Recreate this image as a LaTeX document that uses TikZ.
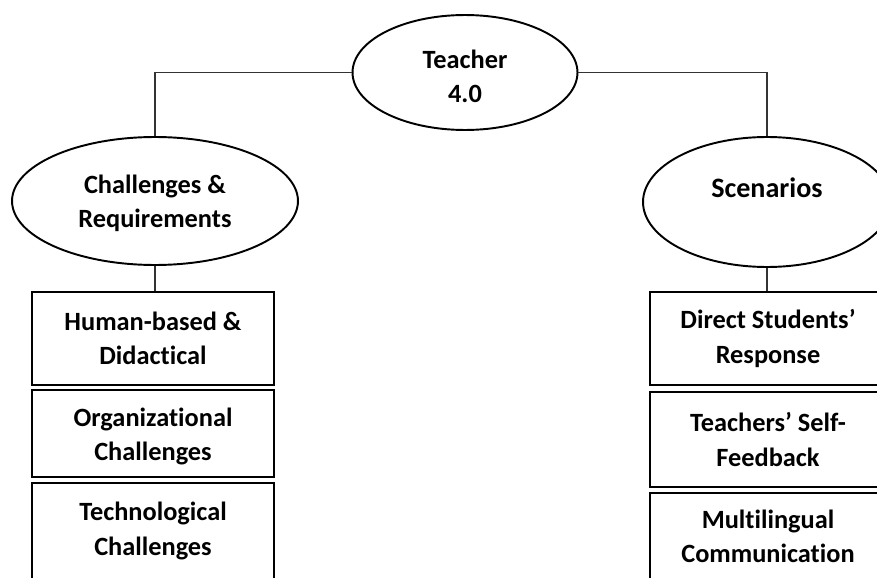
\documentclass[tikz,border=0pt]{standalone}
\usepackage{fontspec}
\setmainfont{Carlito}[Ligatures={TeX,NoCommon}]
\usepackage{tikz}
\usetikzlibrary{shapes.geometric}

% move a (multi-line) label up or down without changing its box
\newcommand{\lifted}[2]{\raisebox{#1}[\height][\depth]{\begin{tabular}{@{}c@{}}#2\end{tabular}}}

\tikzset{
  topic/.style={ellipse, draw, line width=1.1pt, align=center, inner sep=0pt,
    font=\bfseries\fontsize{15}{19.5}\selectfont},
  item/.style={rectangle, draw, line width=1.1pt, align=center, inner sep=0pt,
    font=\bfseries\fontsize{15}{19.5}\selectfont},
  link/.style={draw=black!80, line width=0.6pt}
}

\begin{document}
\begin{tikzpicture}[x=0.02cm, y=-0.02cm]
                \useasboundingbox (0,0) rectangle (877,578);
                \clip (0,0) rectangle (877,578);

                % Root
                \node[topic, minimum width=4.5cm, minimum height=2.3cm] (teacher) at (465,72.5) {\lifted{-3.4pt}{Teacher\\4.0}};

                % Branches
                \node[topic, minimum width=5.72cm, minimum height=2.56cm] (chal) at (155,201) {\lifted{-1.7pt}{Challenges \&\\Requirements}};
                \node[topic, minimum width=4.96cm, minimum height=2.6cm, font=\bfseries\fontsize{16}{19.5}\selectfont] (scen) at (767,202) {\lifted{6.2pt}{Scenarios}};

                % Left column
                \node[item, minimum width=4.84cm, minimum height=1.86cm] (human) at (153,338.5) {Human-based \&\\Didactical};
                \node[item, minimum width=4.84cm, minimum height=1.74cm] (organ) at (153,433.5) {\lifted{-2pt}{Organizational\\Challenges}};
                \node[item, minimum width=4.84cm, minimum height=1.92cm] (techn) at (153,531) {Technological\\Challenges};

                % Right column
                \node[item, minimum width=4.72cm, minimum height=1.86cm] (direct) at (768,338.5) {Direct Students’\\Response};
                \node[item, minimum width=4.72cm, minimum height=1.9cm] (selffb) at (768,439.5) {Teachers’ Self-\\Feedback};
                \node[item, minimum width=4.72cm, minimum height=1.92cm] (multi) at (768,541) {\lifted{1.5pt}{Multilingual\\Communication}};

                % Connectors
                \draw[link] (teacher.west) -| (chal.north);
                \draw[link] (teacher.east) -| (scen.north);
                \draw[link] (chal.south) -- (chal.south |- human.north);
                \draw[link] (scen.south) -- (scen.south |- direct.north);
            \end{tikzpicture}
\end{document}
